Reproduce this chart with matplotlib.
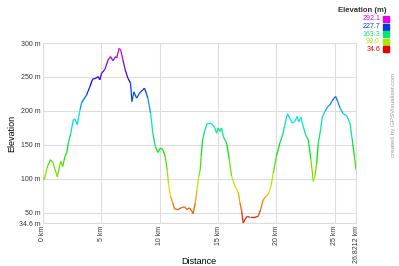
import colorsys
import numpy as np
import matplotlib
matplotlib.use("Agg")
from matplotlib import pyplot as plt
from matplotlib.collections import LineCollection

plt.rcParams['font.family'] = ['Liberation Sans', 'DejaVu Sans']

# profile (km, m)
dist = [0.0, 0.11, 0.34, 0.63, 0.85, 1.23, 1.52, 1.69, 1.9, 2.03, 2.17, 2.38, 2.6, 2.74,
        2.94, 3.17, 3.31, 3.74, 4.02, 4.25, 4.53, 4.73, 4.87, 5.02, 5.3, 5.58, 5.78, 6.0,
        6.23, 6.32, 6.42, 6.52, 6.66, 6.85, 7.05, 7.28, 7.5, 7.62, 7.79, 8.02, 8.27, 8.56,
        8.7, 8.85, 8.98, 9.22, 9.41, 9.62, 9.84, 10.07, 10.27, 10.47, 10.64, 10.75, 10.92,
        11.12, 11.27, 11.55, 11.84, 12.12, 12.35, 12.55, 12.75, 12.87, 13.04, 13.2, 13.35,
        13.47, 13.55, 13.68, 13.88, 14.08, 14.3, 14.53, 14.73, 14.88, 15.0, 15.17, 15.3,
        15.45, 15.74, 15.96, 16.17, 16.45, 16.73, 16.88, 17.02, 17.16, 17.3, 17.5, 17.73,
        18.16, 18.44, 18.65, 18.87, 19.1, 19.3, 19.53, 19.73, 20.0, 20.3, 20.58, 20.78,
        20.95, 21.15, 21.35, 21.58, 21.77, 21.92, 22.1, 22.3, 22.5, 22.73, 22.96, 23.16,
        23.3, 23.45, 23.59, 23.74, 23.93, 24.16, 24.4, 24.6, 24.74, 24.94, 25.08, 25.26,
        25.45, 25.74, 26.03, 26.3, 26.5, 26.68, 26.8212]
elev = [102, 98.5, 115.7, 128, 124, 102.5, 125.5, 118, 134, 138, 152.5, 167, 187, 188,
        179.4, 201.5, 212, 223.5, 235.7, 246.6, 248, 250.5, 245.6, 255.4, 261, 275, 280, 274,
        280, 278, 285, 292.1, 289.7, 275, 260, 248, 240.7, 213.7, 228, 218.7, 226, 231,
        233.4, 226, 218.7, 196.6, 167, 147.5, 138.7, 145, 142.6, 132.8, 113, 93.7, 74,
        64.3, 55.5, 54.4, 57, 58.4, 54.4, 57, 52, 48.5, 64, 84, 103,
        113, 132.8, 157.4, 172, 182, 182, 179.4, 174.6, 167, 174.6, 169.6, 174.6,
        162, 152.5, 128, 103.4, 88.7, 80, 64.3, 52, 34.6, 39.7, 44.5, 43,
        43, 44.5, 54.4, 69, 74, 77, 88.7, 108, 133, 152.5, 167, 184,
        195.6, 189, 182, 184, 191.7, 184, 190.6, 177, 164.7, 157.4, 128, 96,
        103.4, 123, 152.5, 167, 190.6, 199, 206.4, 209, 213.7, 218.7, 221, 213.7,
        204, 195.6, 192.6, 182, 157.4, 133, 113]

y_ticks = [34.6, 50, 100, 150, 200, 250, 300]
y_labels = ["34.6 m", "50 m", "100 m", "150 m", "200 m", "250 m", "300 m"]
x_ticks = [0, 5, 10, 15, 20, 25, 26.8212]
x_labels = ["0 km", "5 km", "10 km", "15 km", "20 km", "25 km", "26.8212 km"]
legend_vals = [292.1, 227.7, 163.3, 99.0, 34.6]

emin, emax = 34.6, 292.1


def elev_color(e):
    h = (e - emin) / (emax - emin) * 300 / 360
    return colorsys.hsv_to_rgb(h, 1, 0.9)


fig = plt.figure(figsize=(3.99, 2.66), dpi=100)
ax = fig.add_axes([43 / 399, 1 - 223 / 266, 313 / 399, 180 / 266])

x = np.array(dist)
y = np.array(elev)
pts = np.column_stack([x, y]).reshape(-1, 1, 2)
segs = np.concatenate([pts[:-1], pts[1:]], axis=1)
cols = [elev_color((a + b) / 2) for a, b in zip(y[:-1], y[1:])]
ax.add_collection(LineCollection(segs, colors=cols, linewidths=0.9, zorder=3))

ax.set_xlim(0, 26.8212)
ax.set_ylim(34.6, 300)
ax.set_yticks(y_ticks)
ax.set_yticklabels(y_labels, fontsize=5, color="#333333")
ax.set_xticks(x_ticks)
ax.set_xticklabels(x_labels, fontsize=5, rotation=90, color="#333333")
ax.tick_params(length=0, pad=2)
ax.grid(True, color="#dddddd", linewidth=0.8)
for s in ax.spines.values():
    s.set_color("#dddddd")
    s.set_linewidth(0.8)

# axis titles placed like the original
fig.text(12 / 399, 1 - 133 / 266, "Elevation", fontsize=6.5, rotation=90,
         ha="center", va="center")
fig.text(199 / 399, 1 - 261 / 266, "Distance", fontsize=6.5, ha="center", va="center")

fig.text(387 / 399, 1 - 11 / 266, "Elevation (m)", fontsize=5.6, weight="bold",
         ha="right", va="center", color="#333333")
for i, v in enumerate(legend_vals):
    yy = 1 - (19 + i * 7.6) / 266
    c = elev_color(v)
    fig.text(380 / 399, yy, f"{v:.1f}", fontsize=5, ha="right", va="center", color=c)
    fig.patches.append(plt.Rectangle((383 / 399, yy - 3 / 266), 6 / 399, 6 / 266,
                                     transform=fig.transFigure, color=c))

fig.text(394 / 399, 1 - 115 / 266, "created by GPSVisualizer.com", fontsize=4.5,
         rotation=90, ha="center", va="center", color="#999999")

fig.savefig("out.png", dpi=100)
